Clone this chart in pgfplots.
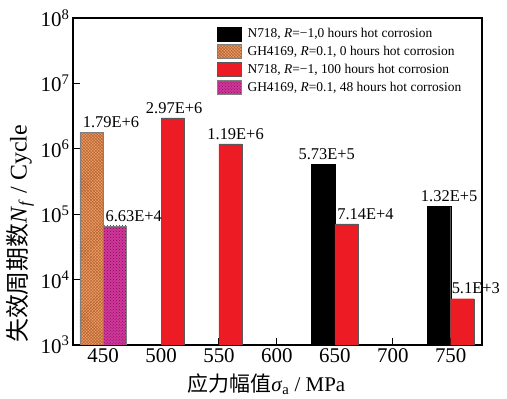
\documentclass[border=0pt]{standalone}
\usepackage{pgfplots}
\pgfplotsset{compat=1.18}
\usepackage{fontspec}
\setmainfont{Liberation Serif}
\newfontfamily\cjk{Noto Sans CJK SC}
\newfontfamily\tnr{Liberation Serif}
\usetikzlibrary{patterns}
\definecolor{myorange}{RGB}{240,158,98}
\definecolor{myorangeD}{RGB}{175,95,50}
\definecolor{myred}{RGB}{237,28,36}
\definecolor{mypink}{RGB}{210,55,155}
\definecolor{mypinkD}{RGB}{115,15,85}
\pgfplotsset{
  mybar/.style={ybar, bar width=20, bar shift=0pt,
    legend image code/.code={\draw[##1] (0bp,-7bp) rectangle (24bp,7bp);},
    nodes near coords={\textrm{\tnr\pgfplotspointmeta}}, point meta=explicit symbolic,
    visualization depends on={value \thisrow{dx} \as \dx},
    every node near coord/.append style={font=\fontsize{16.5}{18}\selectfont, anchor=south, xshift=\dx bp, yshift=1bp, black}},
}
\begin{document}
\begin{tikzpicture}
\begin{axis}[
  scale only axis, width=409bp, height=327bp,
  ymode=log, log origin=infty,
  xmin=424, xmax=777, ymin=1e3, ymax=1e8,
  xtick={450,500,550,600,650,700,750},
  xticklabels={\textrm{\tnr 450},\textrm{\tnr 500},\textrm{\tnr 550},\textrm{\tnr 600},\textrm{\tnr 650},\textrm{\tnr 700},\textrm{\tnr 750}},
  ytick={1e3,1e4,1e5,1e6,1e7,1e8},
  yticklabels={\textrm{\tnr 10\textsuperscript{3}},\textrm{\tnr 10\textsuperscript{4}},\textrm{\tnr 10\textsuperscript{5}},\textrm{\tnr 10\textsuperscript{6}},\textrm{\tnr 10\textsuperscript{7}},\textrm{\tnr 10\textsuperscript{8}}},
  yminorticks=false, xminorticks=false,
  tick pos=left, tick align=inside, major tick length=7bp,
  axis line style={line width=1.2pt},
  every tick/.style={black, line width=1pt},
  tick label style={font=\rmfamily\fontsize{21}{24}\selectfont},
  ylabel={{\cjk 失效周期数}\textit{N}\textsubscript{\textit{f}} / Cycle},
  xlabel={{\cjk 应力幅值}\textit{σ}\textsubscript{a} / MPa},
  every axis y label/.style={at={(ticklabel cs:0.34)}, rotate=90, anchor=near ticklabel, font=\fontsize{24}{26}\selectfont},
  xlabel style={font=\fontsize{21}{24}\selectfont, xshift=-11bp, yshift=-4bp},
  legend style={at={(rel axis cs:0.352,0.975)}, anchor=north west, draw=none, fill=none,
    font=\fontsize{13.5}{16}\selectfont, row sep=3bp, column sep=4bp, inner sep=0pt},
  legend cell align=left,
]
\coordinate (O) at (rel axis cs:0,0);
\addplot[mybar, fill=black, draw=black] table[x=x, y=y, meta=lab] {
x y lab dx
640 5.73e5 5.73E+5 3.5
740 1.32e5 1.32E+5 10
};
\addlegendentry{N718, \textit{R}=−1,0 hours hot corrosion}
\addplot[mybar, fill=myorange, draw=gray, postaction={pattern=crosshatch, pattern color=myorangeD}] table[x=x, y=y, meta=lab] {
x y lab dx
440 1.79e6 1.79E+6 19.5
};
\addlegendentry{GH4169, \textit{R}=0.1, 0 hours hot corrosion}
\addplot[mybar, fill=myred, draw=gray!70!black] table[x=x, y=y, meta=lab] {
x y lab dx
510 2.97e6 2.97E+6 1.5
560 1.19e6 1.19E+6 5
660 7.14e4 7.14E+4 19
760 5.1e3 5.1E+3 13.5
};
\addlegendentry{N718, \textit{R}=−1, 100 hours hot corrosion}
\addplot[mybar, fill=mypink, draw=gray, postaction={pattern=crosshatch dots, pattern color=mypinkD}] table[x=x, y=y, meta=lab] {
x y lab dx
460 6.63e4 6.63E+4 19
};
\addlegendentry{GH4169, \textit{R}=0.1, 48 hours hot corrosion}
\end{axis}
\pgfresetboundingbox
\path (O) ++(-73bp,-54bp) rectangle ++(507bp,399bp);
\end{tikzpicture}
\end{document}
